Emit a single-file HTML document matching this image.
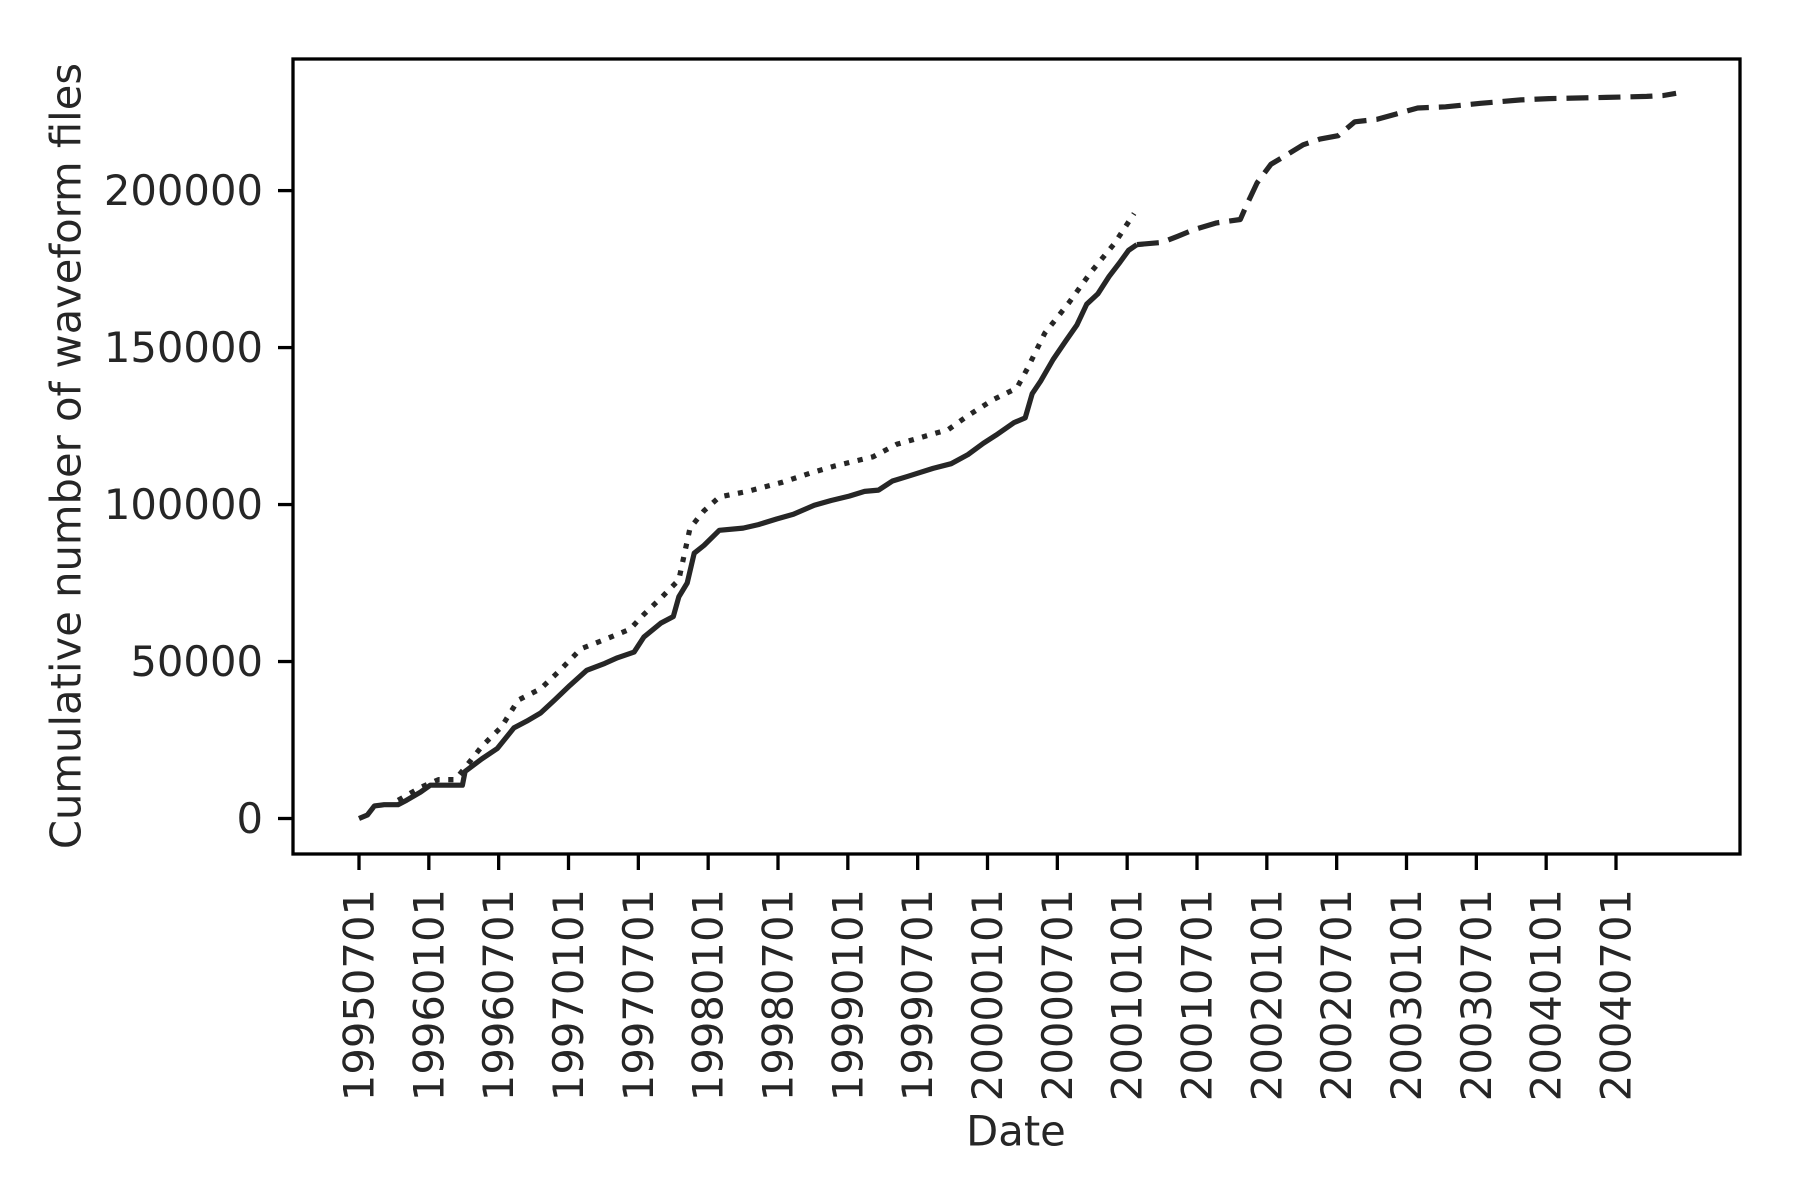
<!DOCTYPE html>
<html><head><meta charset="utf-8"><style>
html,body{margin:0;padding:0;background:#fff;}
svg{display:block;font-family:"DejaVu Sans","Liberation Sans",sans-serif;}
</style></head><body>
<svg id="chart" width="1800" height="1200" viewBox="0 0 1800 1200" xmlns="http://www.w3.org/2000/svg">
<rect width="1800" height="1200" fill="#fff"/>
<g id="plot"></g>
<rect x="293" y="59" width="1447" height="795" fill="none" stroke="#000" stroke-width="3.3"/>
<text transform="translate(66,456) rotate(-90)" text-anchor="middle" dominant-baseline="central" font-size="41.7" fill="#262626">Cumulative number of waveform files</text>
<text x="1016" y="1131" text-anchor="middle" dominant-baseline="central" font-size="41.7" fill="#262626">Date</text>
</svg>
<script>
const xTickYears=[1995.5,1996,1996.5,1997,1997.5,1998,1998.5,1999,1999.5,2000,2000.5,2001,2001.5,2002,2002.5,2003,2003.5,2004,2004.5];
const xTickLabels=["19950701","19960101","19960701","19970101","19970701","19980101","19980701","19990101","19990701","20000101","20000701","20010101","20010701","20020101","20020701","20030101","20030701","20040101","20040701"];
const yTicks=[0,50000,100000,150000,200000];
const solidYears=[1995.50,1995.56,1995.61,1995.68,1995.78,1995.84,1995.94,1996.01,1996.24,1996.26,1996.38,1996.49,1996.61,1996.70,1996.80,1996.90,1997.01,1997.13,1997.26,1997.35,1997.47,1997.54,1997.66,1997.75,1997.79,1997.85,1997.90,1997.97,1998.08,1998.25,1998.36,1998.49,1998.61,1998.76,1998.88,1999.01,1999.12,1999.22,1999.32,1999.43,1999.61,1999.74,1999.86,1999.97,2000.06,2000.19,2000.27,2000.32,2000.38,2000.47,2000.56,2000.64,2000.71,2000.79,2000.87,2000.95,2001.01,2001.07];
const solidValues=[0,1100,4000,4400,4400,5800,8400,10600,10600,15000,19000,22300,28900,31000,33600,37700,42400,47200,49400,51200,53000,57800,62200,64300,70600,75000,84500,87000,91800,92500,93600,95400,96900,99800,101300,102700,104200,104600,107500,109000,111500,113000,115900,119500,122100,126100,127600,135300,139300,146200,152100,157200,163800,167100,172600,177300,181000,182800];
const dashedYears=[2001.07,2001.25,2001.36,2001.48,2001.64,2001.81,2001.85,2001.93,2002.03,2002.14,2002.26,2002.38,2002.51,2002.63,2002.79,2002.96,2003.08,2003.28,2003.53,2003.82,2004.02,2004.43,2004.72,2004.84,2004.93];
const dashedValues=[182800,183500,185400,187600,189700,190800,194900,202500,208400,211300,214600,216400,217500,221900,222700,224800,226300,226700,227800,228900,229300,229700,230000,230300,231000];
const dottedYears=[1995.78,1995.94,1996.07,1996.19,1996.25,1996.38,1996.52,1996.64,1996.80,1996.93,1997.09,1997.26,1997.44,1997.54,1997.67,1997.79,1997.87,1997.97,1998.08,1998.28,1998.53,1998.73,1998.90,1999.18,1999.35,1999.55,1999.72,1999.86,2000.04,2000.21,2000.29,2000.41,2000.58,2000.74,2000.91,2001.05];
const dottedValues=[5800,9900,12400,12400,15700,23000,29200,37700,41300,46800,54100,57000,60300,65000,70600,76000,92500,98000,102400,104200,107100,110000,112200,115200,119200,121700,123900,128300,133400,137100,143700,154600,164100,174000,183200,192700];

const NS="http://www.w3.org/2000/svg";
const X0=359,X1=1616,Y0=818.5,Y200=190.6;
function xs(yr){return X0+(yr-1995.5)*(X1-X0)/9;}
function ys(v){return Y0+v*(Y200-Y0)/200000;}
const g=document.getElementById('plot');
function mk(tag,attrs){const e=document.createElementNS(NS,tag);for(const k in attrs)e.setAttribute(k,attrs[k]);return e;}

xTickYears.forEach((yr,i)=>{
  const x=xs(yr);
  const t=mk('line',{x1:x,x2:x,y1:855,y2:870,stroke:'#000','stroke-width':3.3});
  
  
  g.appendChild(t);
  const l=mk('text',{transform:`translate(${x},889) rotate(-90)`,'text-anchor':'end','dominant-baseline':'central','font-size':41.7,fill:'#262626'});
  l.textContent=xTickLabels[i];
  
  
  g.appendChild(l);
});
yTicks.forEach(v=>{
  const y=ys(v);
  const t=mk('line',{x1:278,x2:293,y1:y,y2:y,stroke:'#000','stroke-width':3.3});
  
  
  g.appendChild(t);
  const l=mk('text',{x:263,y:y,'text-anchor':'end','dominant-baseline':'central','font-size':41.7,fill:'#262626'});
  l.textContent=String(v);
  
  
  g.appendChild(l);
});
function series(yrs,vals,dash,name){
  const d=yrs.map((yr,i)=>(i?'L':'M')+xs(yr).toFixed(1)+','+ys(vals[i]).toFixed(1)).join(' ');
  const p=mk('path',{d:d,fill:'none',stroke:'#262626','stroke-width':5.2,'stroke-linejoin':'round'});
  if(dash)p.setAttribute('stroke-dasharray',dash);
  
  
  g.appendChild(p);
}
series(dottedYears,dottedValues,'5.2 8.6','dotted-series');
series(solidYears,solidValues,null,'solid-series');
series(dashedYears,dashedValues,'22 10','dashed-series');
</script>
</body></html>
